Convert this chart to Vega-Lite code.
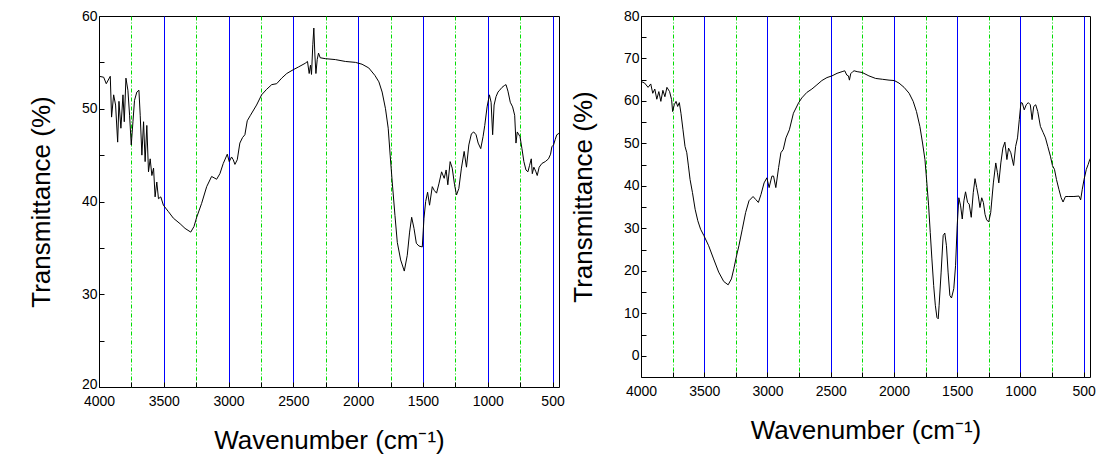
{
  "$schema": "https://vega.github.io/schema/vega-lite/v6.json",
  "background": "white",
  "padding": {"left": 27, "top": 8, "right": 5, "bottom": 5},
  "spacing": 4,
  "datasets": {
    "left": [
      {"wn":4000,"t":53.5},{"wn":3964,"t":53.4},{"wn":3944,"t":52.7},{"wn":3913,"t":53.5},{"wn":3903,"t":49.1},{"wn":3887,"t":51.5},{"wn":3872,"t":50.4},{"wn":3856,"t":46.4},{"wn":3846,"t":50.8},{"wn":3831,"t":47.9},{"wn":3815,"t":51.5},{"wn":3805,"t":48.6},{"wn":3792,"t":53.3},{"wn":3777,"t":52.0},{"wn":3764,"t":49.3},{"wn":3751,"t":46.1},{"wn":3738,"t":48.6},{"wn":3726,"t":50.9},{"wn":3708,"t":51.8},{"wn":3692,"t":52.0},{"wn":3682,"t":49.3},{"wn":3669,"t":45.0},{"wn":3656,"t":48.6},{"wn":3644,"t":44.3},{"wn":3631,"t":48.2},{"wn":3618,"t":43.2},{"wn":3605,"t":44.6},{"wn":3592,"t":42.8},{"wn":3579,"t":43.6},{"wn":3567,"t":40.5},{"wn":3554,"t":42.1},{"wn":3541,"t":40.3},{"wn":3523,"t":40.5},{"wn":3503,"t":39.6},{"wn":3464,"t":38.9},{"wn":3426,"t":38.2},{"wn":3374,"t":37.6},{"wn":3336,"t":37.1},{"wn":3292,"t":36.7},{"wn":3267,"t":37.3},{"wn":3246,"t":38.3},{"wn":3208,"t":39.8},{"wn":3169,"t":41.6},{"wn":3131,"t":42.7},{"wn":3092,"t":42.4},{"wn":3067,"t":43.0},{"wn":3041,"t":44.1},{"wn":3010,"t":45.1},{"wn":2995,"t":44.3},{"wn":2977,"t":44.8},{"wn":2964,"t":44.5},{"wn":2951,"t":44.0},{"wn":2933,"t":44.5},{"wn":2913,"t":46.3},{"wn":2892,"t":46.9},{"wn":2874,"t":47.2},{"wn":2856,"t":48.7},{"wn":2831,"t":49.3},{"wn":2784,"t":50.4},{"wn":2745,"t":51.5},{"wn":2706,"t":52.1},{"wn":2667,"t":52.6},{"wn":2629,"t":52.7},{"wn":2590,"t":53.3},{"wn":2551,"t":53.8},{"wn":2502,"t":54.2},{"wn":2461,"t":54.5},{"wn":2409,"t":54.9},{"wn":2391,"t":55.1},{"wn":2378,"t":53.8},{"wn":2368,"t":54.7},{"wn":2360,"t":53.7},{"wn":2350,"t":56.9},{"wn":2342,"t":58.7},{"wn":2334,"t":55.8},{"wn":2326,"t":53.8},{"wn":2316,"t":55.3},{"wn":2306,"t":56.0},{"wn":2293,"t":55.5},{"wn":2254,"t":55.4},{"wn":2176,"t":55.3},{"wn":2099,"t":55.1},{"wn":2021,"t":55.0},{"wn":1970,"t":54.8},{"wn":1918,"t":54.4},{"wn":1871,"t":53.6},{"wn":1840,"t":52.9},{"wn":1815,"t":51.8},{"wn":1789,"t":50.0},{"wn":1768,"t":47.9},{"wn":1753,"t":45.0},{"wn":1737,"t":42.1},{"wn":1716,"t":38.5},{"wn":1698,"t":35.6},{"wn":1672,"t":33.7},{"wn":1644,"t":32.5},{"wn":1621,"t":34.2},{"wn":1603,"t":36.7},{"wn":1587,"t":38.3},{"wn":1569,"t":37.1},{"wn":1551,"t":35.5},{"wn":1531,"t":35.2},{"wn":1505,"t":35.1},{"wn":1492,"t":38.2},{"wn":1479,"t":40.0},{"wn":1464,"t":41.0},{"wn":1449,"t":39.6},{"wn":1428,"t":41.6},{"wn":1413,"t":41.2},{"wn":1395,"t":40.9},{"wn":1377,"t":41.9},{"wn":1356,"t":43.2},{"wn":1336,"t":42.5},{"wn":1321,"t":43.4},{"wn":1308,"t":41.8},{"wn":1290,"t":44.3},{"wn":1274,"t":43.6},{"wn":1256,"t":41.8},{"wn":1241,"t":40.7},{"wn":1223,"t":41.4},{"wn":1203,"t":43.6},{"wn":1182,"t":45.4},{"wn":1164,"t":43.7},{"wn":1146,"t":46.1},{"wn":1126,"t":47.3},{"wn":1108,"t":47.5},{"wn":1090,"t":47.2},{"wn":1074,"t":46.3},{"wn":1054,"t":45.7},{"wn":1036,"t":47.0},{"wn":1023,"t":48.2},{"wn":1005,"t":50.2},{"wn":987,"t":51.5},{"wn":974,"t":50.7},{"wn":962,"t":47.2},{"wn":951,"t":50.4},{"wn":936,"t":51.3},{"wn":921,"t":51.8},{"wn":908,"t":52.0},{"wn":890,"t":52.3},{"wn":872,"t":52.5},{"wn":859,"t":52.6},{"wn":844,"t":51.9},{"wn":826,"t":50.7},{"wn":808,"t":50.2},{"wn":792,"t":49.3},{"wn":782,"t":46.3},{"wn":772,"t":47.5},{"wn":751,"t":47.0},{"wn":736,"t":45.7},{"wn":721,"t":44.3},{"wn":705,"t":43.4},{"wn":690,"t":43.2},{"wn":677,"t":43.9},{"wn":664,"t":44.6},{"wn":656,"t":43.0},{"wn":644,"t":43.7},{"wn":628,"t":43.2},{"wn":618,"t":42.8},{"wn":603,"t":43.7},{"wn":582,"t":44.1},{"wn":556,"t":44.3},{"wn":531,"t":44.6},{"wn":515,"t":45.1},{"wn":505,"t":45.9},{"wn":492,"t":46.1},{"wn":479,"t":46.7},{"wn":467,"t":47.2},{"wn":454,"t":47.3},{"wn":450,"t":47.4}
    ],
    "right": [
      {"wn":4000,"t":64.6},{"wn":3971,"t":64.2},{"wn":3944,"t":63.2},{"wn":3923,"t":64.0},{"wn":3907,"t":61.8},{"wn":3891,"t":62.8},{"wn":3875,"t":60.4},{"wn":3859,"t":62.2},{"wn":3843,"t":59.9},{"wn":3827,"t":62.5},{"wn":3811,"t":61.0},{"wn":3795,"t":63.2},{"wn":3774,"t":62.2},{"wn":3758,"t":60.3},{"wn":3750,"t":57.5},{"wn":3737,"t":59.1},{"wn":3723,"t":59.9},{"wn":3710,"t":58.7},{"wn":3697,"t":59.6},{"wn":3684,"t":57.1},{"wn":3668,"t":53.2},{"wn":3652,"t":49.3},{"wn":3638,"t":47.8},{"wn":3625,"t":44.7},{"wn":3612,"t":41.5},{"wn":3593,"t":38.4},{"wn":3572,"t":34.5},{"wn":3551,"t":31.8},{"wn":3529,"t":29.8},{"wn":3503,"t":28.3},{"wn":3465,"t":25.9},{"wn":3426,"t":22.8},{"wn":3386,"t":19.7},{"wn":3346,"t":17.5},{"wn":3311,"t":16.7},{"wn":3285,"t":18.1},{"wn":3266,"t":20.5},{"wn":3247,"t":23.2},{"wn":3226,"t":25.9},{"wn":3199,"t":29.8},{"wn":3173,"t":33.7},{"wn":3146,"t":36.5},{"wn":3114,"t":37.5},{"wn":3093,"t":36.8},{"wn":3072,"t":36.1},{"wn":3051,"t":38.0},{"wn":3027,"t":40.7},{"wn":3005,"t":41.9},{"wn":2987,"t":39.6},{"wn":2965,"t":42.3},{"wn":2952,"t":42.3},{"wn":2934,"t":39.6},{"wn":2912,"t":44.3},{"wn":2894,"t":47.8},{"wn":2875,"t":48.6},{"wn":2854,"t":51.3},{"wn":2827,"t":53.2},{"wn":2795,"t":57.1},{"wn":2755,"t":59.5},{"wn":2729,"t":60.7},{"wn":2689,"t":62.0},{"wn":2649,"t":62.8},{"wn":2609,"t":63.8},{"wn":2570,"t":64.8},{"wn":2530,"t":65.5},{"wn":2490,"t":65.9},{"wn":2450,"t":66.5},{"wn":2410,"t":66.9},{"wn":2389,"t":67.1},{"wn":2373,"t":66.1},{"wn":2360,"t":65.9},{"wn":2352,"t":64.9},{"wn":2342,"t":66.4},{"wn":2326,"t":66.9},{"wn":2315,"t":67.1},{"wn":2291,"t":66.9},{"wn":2251,"t":66.7},{"wn":2198,"t":65.9},{"wn":2145,"t":65.3},{"wn":2092,"t":65.1},{"wn":2039,"t":64.9},{"wn":1997,"t":64.8},{"wn":1960,"t":64.2},{"wn":1920,"t":63.2},{"wn":1880,"t":61.8},{"wn":1848,"t":59.9},{"wn":1822,"t":57.5},{"wn":1795,"t":54.0},{"wn":1774,"t":50.1},{"wn":1755,"t":46.2},{"wn":1742,"t":41.5},{"wn":1726,"t":35.3},{"wn":1713,"t":29.0},{"wn":1700,"t":22.8},{"wn":1686,"t":16.5},{"wn":1673,"t":11.9},{"wn":1660,"t":9.0},{"wn":1650,"t":8.7},{"wn":1643,"t":11.9},{"wn":1627,"t":19.7},{"wn":1611,"t":28.3},{"wn":1598,"t":28.9},{"wn":1585,"t":25.9},{"wn":1572,"t":19.7},{"wn":1558,"t":14.2},{"wn":1545,"t":13.6},{"wn":1527,"t":15.8},{"wn":1513,"t":21.2},{"wn":1500,"t":30.6},{"wn":1487,"t":37.2},{"wn":1473,"t":35.3},{"wn":1460,"t":32.2},{"wn":1447,"t":36.5},{"wn":1434,"t":38.6},{"wn":1418,"t":36.1},{"wn":1405,"t":35.7},{"wn":1389,"t":32.6},{"wn":1373,"t":38.4},{"wn":1359,"t":41.7},{"wn":1346,"t":39.6},{"wn":1333,"t":37.6},{"wn":1320,"t":34.9},{"wn":1306,"t":37.2},{"wn":1293,"t":36.1},{"wn":1280,"t":33.3},{"wn":1267,"t":32.0},{"wn":1251,"t":31.5},{"wn":1235,"t":33.7},{"wn":1214,"t":40.7},{"wn":1195,"t":45.4},{"wn":1182,"t":43.1},{"wn":1171,"t":40.7},{"wn":1155,"t":45.4},{"wn":1139,"t":48.9},{"wn":1123,"t":50.3},{"wn":1107,"t":46.2},{"wn":1094,"t":48.9},{"wn":1076,"t":47.8},{"wn":1054,"t":44.8},{"wn":1038,"t":49.3},{"wn":1023,"t":51.3},{"wn":1009,"t":55.6},{"wn":996,"t":59.6},{"wn":985,"t":59.5},{"wn":970,"t":57.9},{"wn":954,"t":59.1},{"wn":938,"t":59.6},{"wn":922,"t":59.1},{"wn":908,"t":55.6},{"wn":895,"t":58.7},{"wn":879,"t":59.1},{"wn":863,"t":57.5},{"wn":842,"t":54.0},{"wn":821,"t":52.6},{"wn":802,"t":51.3},{"wn":784,"t":49.3},{"wn":763,"t":47.0},{"wn":747,"t":44.8},{"wn":731,"t":43.9},{"wn":715,"t":41.5},{"wn":696,"t":39.2},{"wn":678,"t":37.2},{"wn":663,"t":36.2},{"wn":644,"t":37.5},{"wn":617,"t":37.5},{"wn":577,"t":37.5},{"wn":537,"t":37.6},{"wn":524,"t":36.7},{"wn":511,"t":39.2},{"wn":497,"t":41.5},{"wn":479,"t":43.9},{"wn":465,"t":45.0},{"wn":452,"t":46.2},{"wn":450,"t":46.4}
    ]
  },
  "config": {
    "view": {"stroke": "#000000", "strokeWidth": 1},
    "axis": {
      "labelFont": "Liberation Sans",
      "labelFontSize": 14,
      "labelColor": "#000000",
      "labelFlush": false,
      "titleFont": "Liberation Sans",
      "titleFontSize": 26,
      "titleFontWeight": "normal",
      "titleColor": "#000000",
      "tickColor": "#000000",
      "tickSize": -5,
      "domain": false
    },
    "axisX": {
      "grid": true,
      "gridWidth": 1,
      "labelPadding": 12,
      "titlePadding": 19
    },
    "axisY": {
      "grid": false,
      "labelPadding": 7,
      "titlePadding": 27
    }
  },
  "hconcat": [
    {
      "width": 460,
      "height": 371,
      "data": {"name": "left"},
      "mark": {"type": "line", "color": "#000000", "strokeWidth": 1},
      "encoding": {
        "x": {"field": "wn", "type": "quantitative", "title": "Wavenumber (cm⁻¹)",
              "scale": {"domain": [450, 4000], "reverse": true, "nice": false, "zero": false},
              "axis": {
                "values": [4000,3750,3500,3250,3000,2750,2500,2250,2000,1750,1500,1250,1000,750,500],
                "labelExpr": "datum.value % 500 === 0 ? datum.value : ''",
                "gridColor": {"condition": {"test": "datum.value % 500 === 0", "value": "#0000ff"}, "value": "#00dd00"},
                "gridDash": {"condition": {"test": "datum.value % 500 === 0", "value": []}, "value": [4, 2, 1, 2]},
                "gridOpacity": {"condition": {"test": "datum.value === 4000", "value": 0}, "value": 1}
              }},
        "y": {"field": "t", "type": "quantitative", "title": "Transmittance (%)",
              "scale": {"domain": [20, 60], "nice": false, "zero": false},
              "axis": {"values": [20,25,30,35,40,45,50,55,60], "labelExpr": "datum.value % 10 === 0 ? datum.value : ''",
                       "labelOffset": {"condition": {"test": "datum.value === 20", "value": -3}, "value": 0}}}
      }
    },
    {
      "width": 449,
      "height": 361,
      "data": {"name": "right"},
      "mark": {"type": "line", "color": "#000000", "strokeWidth": 1},
      "encoding": {
        "x": {"field": "wn", "type": "quantitative", "title": "Wavenumber (cm⁻¹)",
              "scale": {"domain": [450, 4000], "reverse": true, "nice": false, "zero": false},
              "axis": {
                "values": [4000,3750,3500,3250,3000,2750,2500,2250,2000,1750,1500,1250,1000,750,500],
                "labelExpr": "datum.value % 500 === 0 ? datum.value : ''",
                "gridColor": {"condition": {"test": "datum.value % 500 === 0", "value": "#0000ff"}, "value": "#00dd00"},
                "gridDash": {"condition": {"test": "datum.value % 500 === 0", "value": []}, "value": [4, 2, 1, 2]},
                "gridOpacity": {"condition": {"test": "datum.value === 4000", "value": 0}, "value": 1}
              }},
        "y": {"field": "t", "type": "quantitative", "title": "Transmittance (%)",
              "scale": {"domain": [-5, 80], "nice": false, "zero": false},
              "axis": {"values": [0,5,10,15,20,25,30,35,40,45,50,55,60,65,70,75,80], "labelExpr": "datum.value % 10 === 0 ? datum.value : ''"}}
      }
    }
  ]
}
